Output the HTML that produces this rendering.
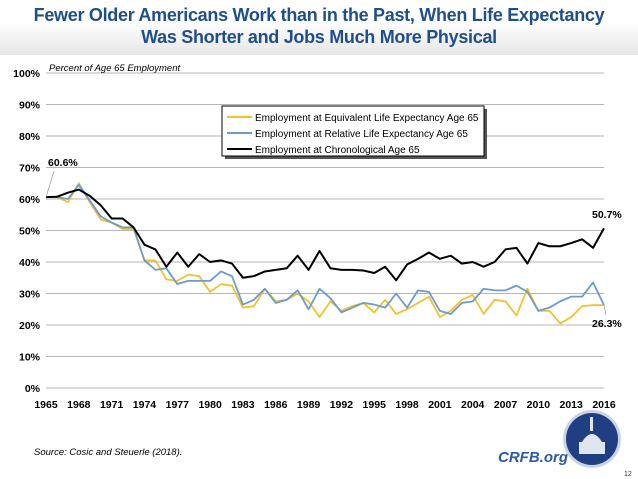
<!DOCTYPE html>
<html><head><meta charset="utf-8"><style>
body{margin:0;width:638px;height:479px;background:#fff;font-family:"Liberation Sans",sans-serif;overflow:hidden;position:relative}
#hdr{position:absolute;left:0;top:0;width:638px;height:55px;background:linear-gradient(#fff 0%,#fff 40%,#e6e6e6 100%)}
#title{position:absolute;left:0;top:4px;width:638px;text-align:center;color:#1f4e8c;font-weight:bold;font-size:18px;line-height:22px;letter-spacing:-0.3px}
</style></head><body>
<div id="hdr"></div>
<div id="title">Fewer Older Americans Work than in the Past, When Life Expectancy<br>Was Shorter and Jobs Much More Physical</div>
<svg id="chart" width="638" height="479" style="position:absolute;left:0;top:0"></svg>
<script>
const years=[];for(let y=1965;y<=2016;y++)years.push(y);
const tickYears=[1965,1968,1971,1974,1977,1980,1983,1986,1989,1992,1995,1998,2001,2004,2007,2010,2013,2016];
const yTicks=[0,10,20,30,40,50,60,70,80,90,100];
const chrono=[60.6,60.7,62,63,61,58,53.8,53.8,51,45.5,44,38.5,43,38.5,42.5,40,40.5,39.5,35,35.5,37,37.5,38,42,37.5,43.5,38,37.5,37.5,37.3,36.5,38.5,34.2,39.2,41,43,41,42,39.5,40,38.5,40,44,44.5,39.5,46,45,45,46,47.2,44.5,50.7];
const equiv=[60.6,60.6,59,65,59,53.5,52.5,50.5,50.5,40.5,40.5,34.5,34,36,35.5,30.5,33,32.5,25.5,26,31.5,27.5,28,30,27.5,22.5,27.5,24.5,26,27,24,28,23.5,25,27,29,22.5,24.5,28,29.5,23.5,28,27.5,23,31.5,24.5,24.5,20.5,22.5,26,26.3,26.3];
const relative=[60.6,60.6,60,64.5,59.5,54.5,52.5,51,51,40.5,37.5,38,33,34,34,34,37,35.5,26.5,28,31.5,27,28,31,25,31.5,28.5,24,25.5,27,26.5,25.5,30,25.5,31,30.5,24.5,23.5,27,27.5,31.5,31,31,32.5,30.5,24.5,25.5,27.5,29,29,33.5,26.3];
const series=[{name:'equivalent',data:equiv,color:'#f2c12e',label:'Employment at Equivalent Life Expectancy Age 65'},
{name:'relative',data:relative,color:'#6b9ccc',label:'Employment at Relative Life Expectancy Age 65'},
{name:'chronological',data:chrono,color:'#000',label:'Employment at Chronological Age 65'}];
const svg=document.getElementById('chart');const NS='http://www.w3.org/2000/svg';
const X0=46,X1=604,Y0=388,Y1=73;
const xs=y=>X0+(y-1965)*(X1-X0)/(2016-1965);
const ys=v=>Y0-v*(Y0-Y1)/100;
function mk(t,a,p){const e=document.createElementNS(NS,t);for(const k in a)e.setAttribute(k,a[k]);(p||svg).appendChild(e);return e;}
yTicks.forEach(v=>{
 const l=mk('line',{x1:X0,x2:X1,y1:ys(v),y2:ys(v),stroke:'#b5b5b5','stroke-width':1});
 
 
 const t=mk('text',{x:40,y:ys(v)+4,'text-anchor':'end','font-size':'10.5','font-weight':'bold',fill:'#000','font-family':'Liberation Sans'});t.textContent=v+'%';
 
 
});
tickYears.forEach(y=>{
 const t=mk('text',{x:xs(y),y:408,'text-anchor':'middle','font-size':'10.5','font-weight':'bold',fill:'#000','font-family':'Liberation Sans'});t.textContent=y;
 
 
});
series.forEach(s=>{
 const p=mk('polyline',{points:s.data.map((v,i)=>xs(years[i])+','+ys(v)).join(' '),fill:'none',stroke:s.color,'stroke-width':s.name==='chronological'?2:1.8,'stroke-linejoin':'round'});
 
 
});
let a=mk('line',{x1:xs(1965),y1:ys(chrono[0]),x2:54,y2:171,stroke:'#999','stroke-width':0.7});
a=mk('text',{x:48,y:166,'font-size':'10.5','font-weight':'bold'});a.textContent=chrono[0].toFixed(1)+'%';

a=mk('text',{x:592,y:218,'font-size':'10.5','font-weight':'bold'});a.textContent=chrono[chrono.length-1].toFixed(1)+'%';

mk('line',{x1:xs(2016),y1:ys(relative[51]),x2:606,y2:315,stroke:'#999','stroke-width':0.7});
a=mk('text',{x:592,y:327,'font-size':'10.5','font-weight':'bold'});a.textContent=relative[relative.length-1].toFixed(1)+'%';

a=mk('text',{x:49,y:71,'font-size':'9.5','font-style':'italic'});a.textContent='Percent of Age 65 Employment';

const g=mk('g',{});
mk('rect',{x:225,y:109,width:262,height:50,fill:'#555'},g);
mk('rect',{x:222,y:106,width:262,height:50,fill:'#fff',stroke:'#000','stroke-width':1},g);
series.forEach((s,i)=>{
 const yy=117+i*16;
 mk('line',{x1:227,x2:252,y1:yy,y2:yy,stroke:s.color,'stroke-width':2},g);
 const t=mk('text',{x:255,y:yy+4,'font-size':'10',fill:'#000'},g);t.textContent=s.label;
 
 
});
a=mk('text',{x:34,y:455,'font-size':'9.5','font-style':'italic'});a.textContent='Source: Cosic and Steuerle (2018).';

a=mk('text',{x:498,y:462,'font-size':'15','font-style':'italic','font-weight':'bold',fill:'#2a5aa8'});a.textContent='CRFB.org';

const lg=mk('g',{});
mk('circle',{cx:592,cy:439,r:29,fill:'#c9d3e3'},lg);
mk('circle',{cx:592,cy:439,r:26,fill:'#1f3f82'},lg);
mk('rect',{x:579,y:442,width:26,height:12,fill:'#dfe6f0'},lg);
mk('path',{d:'M582 442 Q592 426 602 442 Z',fill:'#dfe6f0'},lg);
mk('rect',{x:590,y:417,width:3,height:14,fill:'#dfe6f0'},lg);
a=mk('text',{x:624,y:476,'font-size':'7',fill:'#333'});a.textContent='12';

</script>
</body></html>
